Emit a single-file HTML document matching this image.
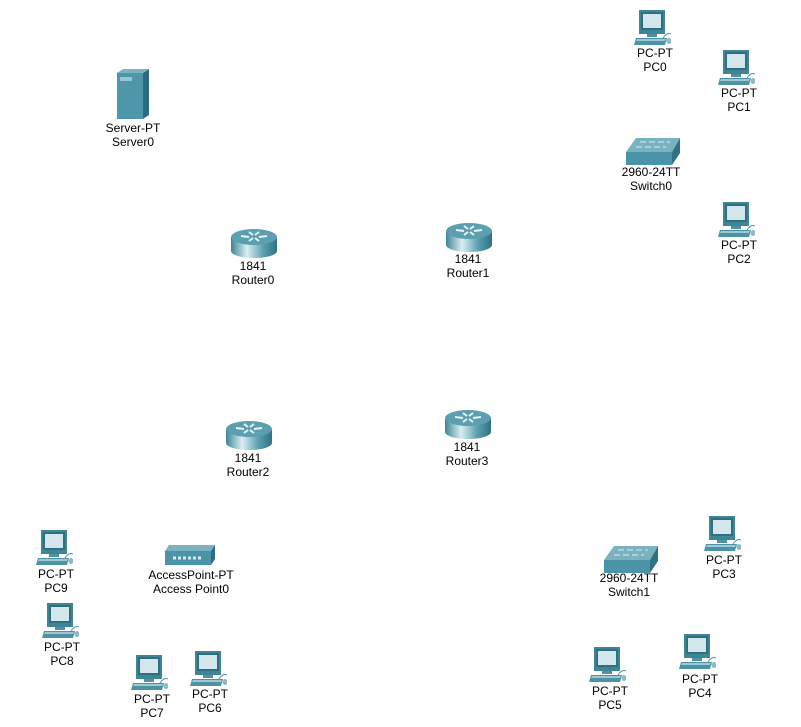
<!DOCTYPE html>
<html><head><meta charset="utf-8"><style>
body{margin:0;width:801px;height:727px;background:#fff;position:relative;overflow:hidden;font-family:"Liberation Sans",Arial,sans-serif;}
.dev{position:absolute;}
.lbl{position:absolute;font-size:12px;color:#000;white-space:nowrap;transform:translateX(-50%);line-height:14px;text-align:center;}
svg{position:absolute;overflow:visible}
</style></head><body>
<svg width="0" height="0" style="position:absolute">
<defs>
<linearGradient id="rg" x1="0" x2="1"><stop offset="0" stop-color="#3f8697"/><stop offset="0.35" stop-color="#d9eef2"/><stop offset="0.7" stop-color="#5aa0b0"/><stop offset="1" stop-color="#2f7284"/></linearGradient>
<symbol id="pc" viewBox="0 0 38 36">
<rect x="6" y="0" width="26" height="24" fill="#3f8596"/>
<rect x="8" y="2" width="22" height="18" fill="#2e6f80"/>
<rect x="10" y="4" width="18" height="14" fill="#d3e6ec"/>
<rect x="14" y="24" width="10" height="3" fill="#4c93a5"/>
<polygon points="3,28 34,28 32,35 1,35" fill="#4c93a5"/>
<polygon points="4,29 33,29 32,31 3,31" fill="#9fc8d2"/>
<path d="M30,28 q4,-6 8,-4" stroke="#4c93a5" fill="none"/>
<ellipse cx="36" cy="31" rx="2.5" ry="3" fill="#8dbac6"/>
</symbol>
<symbol id="rt" viewBox="0 0 46 30">
<rect x="0" y="9" width="46" height="14" fill="url(#rg)"/>
<ellipse cx="23" cy="23" rx="23" ry="7" fill="url(#rg)"/>
<ellipse cx="23" cy="9" rx="23" ry="8" fill="#5c9fb0"/>
<path d="M10,8 l8,1 M36,8 l-8,1 M18,4 l4,3 M28,13 l-4,-3 M18,13 l4,-3 M28,4 l-4,3" stroke="#e8f4f6" stroke-width="2"/>
</symbol>
<symbol id="sw" viewBox="0 0 54 27">
<polygon points="10,0 54,0 46,14 0,14" fill="#7ab2c0"/>
<polygon points="0,14 46,14 46,27 0,27" fill="#4b93a6"/>
<polygon points="46,14 54,0 54,15 46,27" fill="#2f7284"/>
<path d="M14,4 h30 M10,9 h30" stroke="#d8ecf0" stroke-width="1" stroke-dasharray="6,3"/>
</symbol>
<symbol id="sv" viewBox="0 0 32 50">
<rect x="0" y="4" width="26" height="46" fill="#4e97aa"/>
<polygon points="26,4 32,0 32,46 26,50" fill="#2b6d7e"/>
<polygon points="0,4 6,0 32,0 26,4" fill="#7bb3c1"/>
<rect x="3" y="8" width="12" height="4" fill="#9ac6d1"/>
</symbol>
<symbol id="ap" viewBox="0 0 50 20">
<polygon points="4,0 50,0 46,6 0,6" fill="#7ab2c0"/>
<rect x="0" y="6" width="46" height="14" fill="#4b93a6"/>
<polygon points="46,6 50,0 50,14 46,20" fill="#2b6d7e"/>
<path d="M8,13 h30" stroke="#d8ecf0" stroke-width="3" stroke-dasharray="3,2"/>
</symbol>
</defs></svg>
<div id="root"></div>
<script>
const devices=[
['pc','PC-PT','PC0',633,10,655,53],['pc','PC-PT','PC1',717,50,739,93],
['sw','2960-24TT','Switch0',626,138,651,172],['pc','PC-PT','PC2',717,202,739,245],
['sv','Server-PT','Server0',117,69,133,128],
['rt','1841','Router0',231,228,253,266],['rt','1841','Router1',446,222,468,259],
['rt','1841','Router2',226,420,248,458],['rt','1841','Router3',445,409,467,447],
['pc','PC-PT','PC9',35,530,56,574],['pc','PC-PT','PC8',41,603,62,647],
['pc','PC-PT','PC7',130,655,152,699],['pc','PC-PT','PC6',189,651,210,694],
['ap','AccessPoint-PT','Access Point0',165,545,191,575],
['sw','2960-24TT','Switch1',604,546,629,578],['pc','PC-PT','PC3',703,516,724,560],
['pc','PC-PT','PC4',678,634,700,679],['pc','PC-PT','PC5',588,647,610,691]];
const sizes={pc:[38,36],rt:[46,30],sw:[54,27],sv:[32,50],ap:[50,20]};
const root=document.getElementById('root');
devices.forEach(d=>{
 const [t,m,n,x,y,lx,ly]=d;const [w,h]=sizes[t];
 const g=document.createElement('div');g.className='dev';
 
 
 g.innerHTML=`<svg style="left:${x}px;top:${y}px" width="${w}" height="${h}"><use href="#${t}"/></svg>`+
 `<div class="lbl" style="left:${lx}px;top:${ly-7}px">${m}<br>${n}</div>`;
 root.appendChild(g);
});
</script>
</body></html>
